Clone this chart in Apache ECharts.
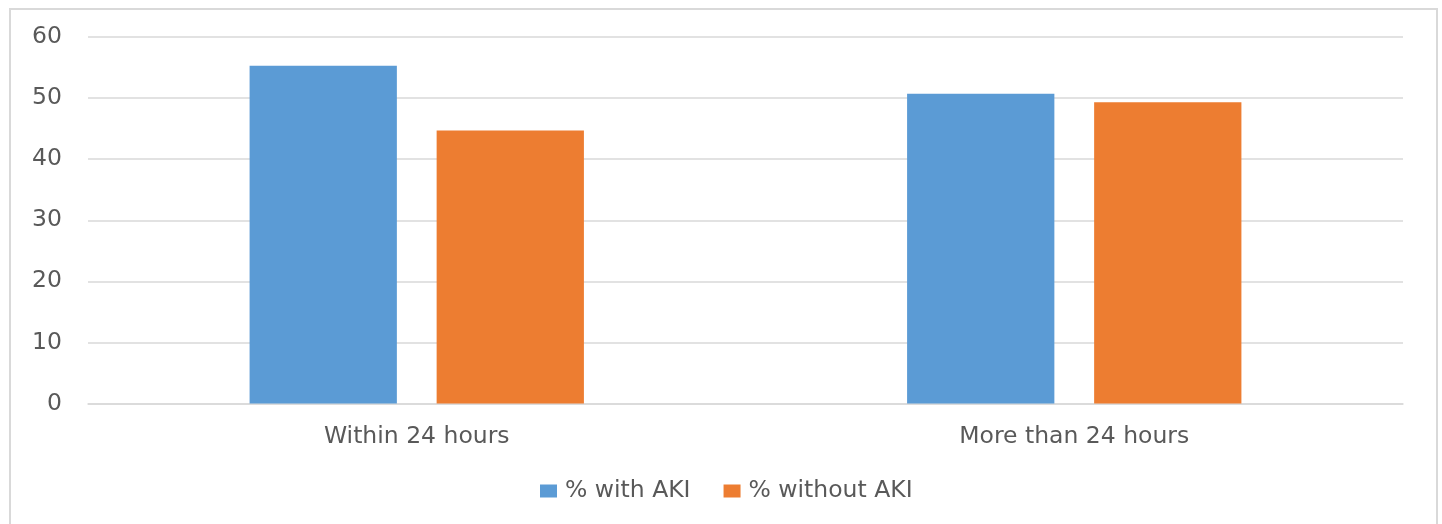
<!DOCTYPE html>
<html>
<head>
<meta charset="utf-8">
<style>
  html, body { margin: 0; padding: 0; background: #ffffff; }
  #chart { width: 1442px; height: 524px; }
</style>
<script src="https://cdn.jsdelivr.net/npm/echarts@6/dist/echarts.min.js"></script>
</head>
<body>
<div id="chart"></div>
<script>
// Onset timing groups and share of patients with / without AKI (%)
const categories = ['Within 24 hours', 'More than 24 hours'];
const withAKI = [55.3, 50.7];
const withoutAKI = [44.7, 49.3];
const seriesNames = ['% with AKI', '% without AKI'];
const yTicks = { min: 0, max: 60, interval: 10 };

const textColor = '#595959';
const gridColor = '#d9d9d9';
const fontFamily = '"DejaVu Sans", "Liberation Sans", sans-serif';
const fontSize = 23.5;

const chart = echarts.init(document.getElementById('chart'), null, { renderer: 'canvas' });

chart.setOption({
  animation: false,
  backgroundColor: '#ffffff',
  textStyle: { fontFamily: fontFamily },
  graphic: [{
    type: 'rect',
    shape: { x: 10, y: 9, width: 1427, height: 540 },
    style: { fill: 'none', stroke: '#d9d9d9', lineWidth: 2 },
    silent: true,
    z: -1
  }],
  grid: { left: 88, right: 39, top: 37, bottom: 120.5, containLabel: false },
  legend: {
    data: seriesNames,
    bottom: 16,
    left: 535,
    itemWidth: 17,
    itemHeight: 13,
    itemGap: 33,
    icon: 'rect',
    textStyle: { color: textColor, fontSize: fontSize, fontFamily: fontFamily, padding: [0, 0, 0, 3] }
  },
  xAxis: {
    type: 'category',
    data: categories,
    axisLine: { show: true, lineStyle: { color: gridColor, width: 1.5 } },
    axisTick: { show: false },
    axisLabel: { color: textColor, fontSize: fontSize, margin: 21, fontFamily: fontFamily }
  },
  yAxis: {
    type: 'value',
    min: yTicks.min,
    max: yTicks.max,
    interval: yTicks.interval,
    axisLine: { show: false },
    axisTick: { show: false },
    axisLabel: { color: textColor, fontSize: fontSize, margin: 26, fontFamily: fontFamily },
    splitLine: { lineStyle: { color: gridColor, width: 1.5 } }
  },
  series: [
    {
      name: seriesNames[0],
      type: 'bar',
      data: withAKI,
      barWidth: '22.4%',
      barGap: '27%',
      itemStyle: { color: '#5B9BD5' }
    },
    {
      name: seriesNames[1],
      type: 'bar',
      data: withoutAKI,
      barWidth: '22.4%',
      barGap: '27%',
      itemStyle: { color: '#ED7D31' }
    }
  ]
});
</script>
</body>
</html>
